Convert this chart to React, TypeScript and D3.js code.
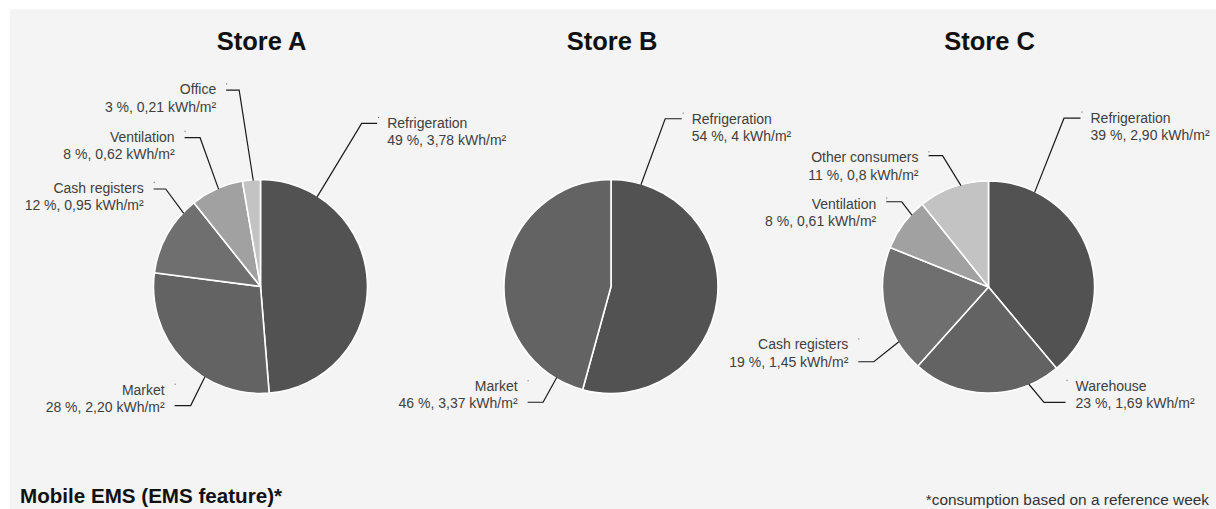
import React from "react";
import * as d3 from "d3";

const storeTitles = ["Store A", "Store B", "Store C"];

const storeACategories = ["Refrigeration", "Market", "Cash registers", "Ventilation", "Office"];
const storeAValues = [3.78, 2.2, 0.95, 0.62, 0.21];
const storeAPercents = [49, 28, 12, 8, 3];
const storeAValueText = ["3,78", "2,20", "0,95", "0,62", "0,21"];

const storeBCategories = ["Refrigeration", "Market"];
const storeBValues = [4, 3.37];
const storeBPercents = [54, 46];
const storeBValueText = ["4", "3,37"];

const storeCCategories = ["Refrigeration", "Warehouse", "Cash registers", "Ventilation", "Other consumers"];
const storeCValues = [2.9, 1.69, 1.45, 0.61, 0.8];
const storeCPercents = [39, 23, 19, 8, 11];
const storeCValueText = ["2,90", "1,69", "1,45", "0,61", "0,8"];

const footerTitle = "Mobile EMS (EMS feature)*";
const footerNote = "*consumption based on a reference week";

// colours per category
const colorMap: Record<string, string> = {
  Refrigeration: "#525252",
  Market: "#636363",
  Warehouse: "#636363",
  "Cash registers": "#6f6f6f",
  Ventilation: "#a1a1a1",
  Office: "#c3c3c3",
  "Other consumers": "#c3c3c3",
};

// label layout (degrees from 12 o'clock, clockwise): edge angle, elbow angle, elbow radius, text dy, horizontal length
type LabelLayout = { a: number; ea: number; er: number; dy: number; h?: number };
const layoutA: LabelLayout[] = [
  { a: 32.3, ea: 31.8, er: 192, dy: 4.7 },
  { a: 211.6, ea: 210.4, er: 138, dy: -10.8, h: 16 },
  { a: -46.4, ea: -44.2, er: 136, dy: 3.8, h: 12 },
  { a: -23.3, ea: -22.1, er: 160.6, dy: 4 },
  { a: -3.9, ea: -6.2, er: 197.6, dy: 4.3, h: 13 },
];
const layoutB: LabelLayout[] = [
  { a: 16.4, ea: 17.9, er: 176.3, dy: 5, h: 16.5 },
  { a: 210.8, ea: 210.4, er: 134.2, dy: -11 },
];
const layoutC: LabelLayout[] = [
  { a: 26, ea: 24.1, er: 184.9, dy: 4.4, h: 16.5 },
  { a: 157.5, ea: 154.3, er: 128, dy: -11.6, h: 21.5 },
  { a: 238.6, ea: 236.9, er: 136.9, dy: -12.4 },
  { a: -46.8, ea: -45.5, er: 121.6, dy: 6.8 },
  { a: -15.2, ea: -19.3, er: 139.1, dy: 6.6, h: 14 },
];

const stores = [
  { title: storeTitles[0], cats: storeACategories, vals: storeAValues, pcts: storeAPercents, vt: storeAValueText, layout: layoutA, cx: 260.5, cy: 286.5, r: 107 },
  { title: storeTitles[1], cats: storeBCategories, vals: storeBValues, pcts: storeBPercents, vt: storeBValueText, layout: layoutB, cx: 611, cy: 286.5, r: 107 },
  { title: storeTitles[2], cats: storeCCategories, vals: storeCValues, pcts: storeCPercents, vt: storeCValueText, layout: layoutC, cx: 988.5, cy: 287, r: 106 },
];

const FONT = "'Liberation Sans', Arial, Helvetica, sans-serif";

function pt(deg: number, rad: number): [number, number] {
  const t = (deg * Math.PI) / 180;
  return [rad * Math.sin(t), -rad * Math.cos(t)];
}

function Pie({ s }: { s: (typeof stores)[number] }) {
  const pie = d3.pie<number>().sort(null).value((d) => d);
  const arcs = pie(s.vals);
  const arc = d3.arc<d3.PieArcDatum<number>>().innerRadius(0).outerRadius(s.r);
  return (
    <g>
      <text x={s.cx + 1} y={50} textAnchor="middle" fontFamily={FONT} fontWeight="bold" fontSize={25.5} fill="#111">
        {s.title}
      </text>
      <g transform={`translate(${s.cx},${s.cy})`}>
        {arcs.map((a, i) => (
          <path key={i} d={arc(a) || ""} fill={colorMap[s.cats[i]]} stroke="#ffffff" strokeWidth={1.6} strokeLinejoin="round" />
        ))}
        {arcs.map((a, i) => {
          const L = s.layout[i];
          const [x0, y0] = pt(L.a, s.r - 1);
          const [x1, y1] = pt(L.ea, L.er);
          const right = x1 > 0;
          const h = L.h ?? 15.5;
          const x2 = right ? x1 + h : x1 - h;
          const tx = right ? x2 + 10 : x2 - 10;
          const by = y1 + L.dy;
          return (
            <g key={"l" + i}>
              <polyline points={`${x0},${y0} ${x1},${y1} ${x2},${y1}`} fill="none" stroke="#1a1a1a" strokeWidth={1.2} />
              <rect x={x2 + (right ? 1 : 0)} y={by - 11} width={1} height={1} fill="#555" />
              <text x={tx} y={by} textAnchor={right ? "start" : "end"} fontFamily={FONT} fontSize={14} fill="#404040">
                <tspan x={tx}>{s.cats[i]}</tspan>
                <tspan x={tx} dy={17.2}>{`${s.pcts[i]} %, ${s.vt[i]} kWh/m²`}</tspan>
              </text>
            </g>
          );
        })}
      </g>
    </g>
  );
}

export default function App() {
  return (
    <svg
      width={1216}
      height={509}
      style={{ position: "absolute", left: 0, top: 0, display: "block" }}
      xmlns="http://www.w3.org/2000/svg"
    >
      <rect x={0} y={0} width={1216} height={509} fill="#ffffff" />
      <rect x={10} y={9} width={1206} height={500} fill="#f4f4f4" />
      {stores.map((s, i) => (
        <Pie key={i} s={s} />
      ))}
      <text x={20} y={503} fontFamily={FONT} fontWeight="bold" fontSize={20.6} fill="#111">
        {footerTitle}
      </text>
      <text x={1209} y={505} textAnchor="end" fontFamily={FONT} fontSize={15.4} fill="#333">
        {footerNote}
      </text>
    </svg>
  );
}
